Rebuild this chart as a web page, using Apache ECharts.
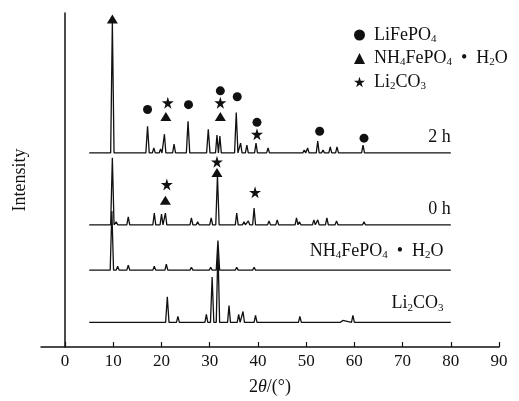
<!DOCTYPE html>
<html>
<head>
<meta charset="utf-8">
<script src="https://cdn.jsdelivr.net/npm/echarts@6/dist/echarts.min.js"></script>
<style>
  html, body { margin: 0; padding: 0; background: #fff; }
  #main { width: 519px; height: 401px; }
</style>
</head>
<body>
<div id="main"></div>
<script>
// x ticks (2θ)
var xTicks = [0, 10, 20, 30, 40, 50, 60, 70, 80, 90];

// baseline of each pattern (stack offset) and scan range
var scanRange = [5, 80];
var base2h = 197, base0h = 124, baseNH4 = 78, baseLi = 25;

// peaks: [2θ, height above baseline]
var peaks2h = [[6.5, 1], [8.0, 1], [9.8, 133], [12.0, 1], [14.5, 1], [17.1, 27], [18.4, 5], [19.8, 4], [20.6, 19],
  [22.6, 9], [24.2, 2], [25.5, 32], [27.2, 2], [28.3, 1], [29.7, 24], [31.5, 18], [32.1, 17], [35.5, 41],
  [36.4, 10], [37.7, 8], [39.6, 10], [42.1, 5], [44.0, 2], [46.0, 1], [48.2, 2], [49.6, 3], [50.3, 5],
  [52.4, 12], [53.5, 3], [55.0, 6], [56.4, 6], [58.2, 2], [61.8, 8], [64.0, 1], [66.0, 2], [68.0, 1],
  [70.1, 2], [72.3, 2], [74.6, 1], [77.5, 1]];
var peaks0h = [[9.8, 68], [10.6, 3], [13.1, 8], [18.5, 12], [20.0, 11], [20.8, 12], [22.5, 2], [24.3, 2],
  [26.2, 7], [27.5, 3], [30.3, 7], [31.6, 50], [33.0, 2], [35.6, 12], [37.1, 3], [38.0, 4], [39.2, 17],
  [42.3, 4], [44.0, 5], [48.0, 7], [48.6, 3], [51.6, 5], [52.4, 5], [54.3, 7], [56.3, 4], [59.0, 1],
  [62.0, 3], [66.0, 2], [72.3, 1], [75.4, 2], [78.0, 1]];
var peaksNH4 = [[6.0, 1], [7.5, 1], [9.7, 60], [10.9, 4], [13.1, 5], [15.0, 1], [16.5, 1], [18.5, 4], [21.0, 6],
  [23.0, 2], [24.5, 1], [26.2, 3], [27.6, 2], [30.2, 3], [31.7, 30], [33.0, 2], [35.6, 3], [37.5, 1],
  [39.2, 3], [44.0, 1], [47.5, 1], [50.8, 1], [56.3, 2], [60.0, 1], [65.0, 1], [70.0, 1]];
var peaksLi = [[21.2, 26], [23.4, 6], [29.3, 8], [30.5, 46], [31.7, 75], [34.0, 17], [36.0, 8], [36.9, 11],
  [39.5, 7], [43.4, 2], [48.7, 6], [50.3, 2], [56.8, 1], [57.6, 2], [59.7, 7], [63.6, 2], [65.2, 1], [73.8, 1]];

// phase markers [2θ, y]
var markLiFePO4 = [[17.1, 241], [25.6, 246], [32.2, 260], [35.7, 254], [39.8, 228], [52.8, 219], [62.0, 212]];
var markNH4 = [[9.8, 333], [20.9, 234], [32.2, 234], [20.8, 149], [31.5, 177]];
var markLi2CO3 = [[21.3, 248], [32.2, 248], [39.8, 216], [21.1, 165], [31.5, 188], [39.4, 157]];

var FONT = 'Liberation Serif';
var INK = '#111';
var starPath = 'path://M50,0 L61,35 L98,35 L68,57 L79,91 L50,70 L21,91 L32,57 L2,35 L39,35 Z';

function buildPattern(peaks, base) {
  var pts = [[scanRange[0], base]];
  peaks.forEach(function (p) {
    var w = p[1] > 20 ? 0.35 : 0.3;
    pts.push([p[0] - w, base], [p[0], base + p[1]], [p[0] + w, base]);
  });
  pts.push([scanRange[1], base]);
  return pts;
}

function lineSeries(name, peaks, base) {
  return {
    name: name,
    type: 'line',
    data: buildPattern(peaks, base),
    symbol: 'none',
    lineStyle: { color: INK, width: 1.3 },
    silent: true,
    z: 2
  };
}

var chart = echarts.init(document.getElementById('main'));

var subRich = {
  sub: { fontSize: 11, fontFamily: FONT, color: INK, padding: [8, 0, 0, 0] }
};
var legendText = {
  'LiFePO4': 'LiFePO{sub|4}',
  'NH4FePO4 • H2O': 'NH{sub|4}FePO{sub|4}  •  H{sub|2}O',
  'Li2CO3': 'Li{sub|2}CO{sub|3}'
};

var option = {
  animation: false,
  grid: { left: 41, right: 20, top: 13, bottom: 49 },
  legend: {
    orient: 'vertical',
    left: 349,
    top: 21,
    itemWidth: 11,
    itemHeight: 11,
    itemGap: 5,
    data: [
      { name: 'LiFePO4', icon: 'circle' },
      { name: 'NH4FePO4 • H2O', icon: 'triangle' },
      { name: 'Li2CO3', icon: starPath }
    ],
    formatter: function (name) { return legendText[name]; },
    itemStyle: { color: INK, opacity: 1 },
    textStyle: { fontSize: 18, fontFamily: FONT, color: INK, padding: [0, 0, 0, 4], rich: subRich }
  },
  xAxis: {
    type: 'value',
    min: -5,
    max: 90,
    name: '2{it|θ}/(°)',
    nameLocation: 'middle',
    nameGap: 31,
    nameTextStyle: {
      fontSize: 18, fontFamily: FONT, color: INK,
      rich: { it: { fontSize: 18, fontFamily: FONT, fontStyle: 'italic', color: INK } }
    },
    axisLine: { lineStyle: { color: INK, width: 1.5 } },
    axisTick: { inside: true, length: 5, customValues: xTicks, lineStyle: { color: INK, width: 1.2 } },
    axisLabel: { customValues: xTicks, fontSize: 17, fontFamily: FONT, color: INK, margin: 6 },
    splitLine: { show: false }
  },
  yAxis: {
    type: 'value',
    min: 0,
    max: 339,
    name: 'Intensity',
    nameLocation: 'middle',
    nameGap: 12,
    nameTextStyle: { fontSize: 18, fontFamily: FONT, color: INK },
    axisLine: { show: true, lineStyle: { color: INK, width: 1.5 } },
    axisTick: { show: false },
    axisLabel: { show: false },
    splitLine: { show: false }
  },
  series: [
    lineSeries('2 h', peaks2h, base2h),
    lineSeries('0 h', peaks0h, base0h),
    lineSeries('NH4FePO4 • H2O pattern', peaksNH4, baseNH4),
    lineSeries('Li2CO3 pattern', peaksLi, baseLi),
    { name: 'LiFePO4', type: 'scatter', symbol: 'circle', symbolSize: 9, data: markLiFePO4,
      itemStyle: { color: INK, opacity: 1 }, z: 3 },
    { name: 'NH4FePO4 • H2O', type: 'scatter', symbol: 'triangle', symbolSize: [11, 9], data: markNH4,
      itemStyle: { color: INK, opacity: 1 }, z: 3 },
    { name: 'Li2CO3', type: 'scatter', symbol: starPath, symbolSize: 12, data: markLi2CO3,
      itemStyle: { color: INK, opacity: 1 }, z: 3 }
  ]
};
chart.setOption(option);

// pattern labels, right-aligned at 80°
var patternLabels = [
  { text: '2 h', at: [80, base2h + 16] },
  { text: '0 h', at: [80, base0h + 16] },
  { text: 'NH{sub|4}FePO{sub|4}  •  H{sub|2}O', at: [78.5, baseNH4 + 19] },
  { text: 'Li{sub|2}CO{sub|3}', at: [78.5, baseLi + 19] }
];
chart.setOption({
  graphic: patternLabels.map(function (l) {
    var p = chart.convertToPixel({ gridIndex: 0 }, l.at);
    return {
      type: 'text',
      x: p[0],
      y: p[1],
      style: {
        text: l.text,
        fontSize: 18,
        fontFamily: FONT,
        fill: INK,
        align: 'right',
        verticalAlign: 'middle',
        rich: subRich
      }
    };
  })
});
</script>
</body>
</html>
